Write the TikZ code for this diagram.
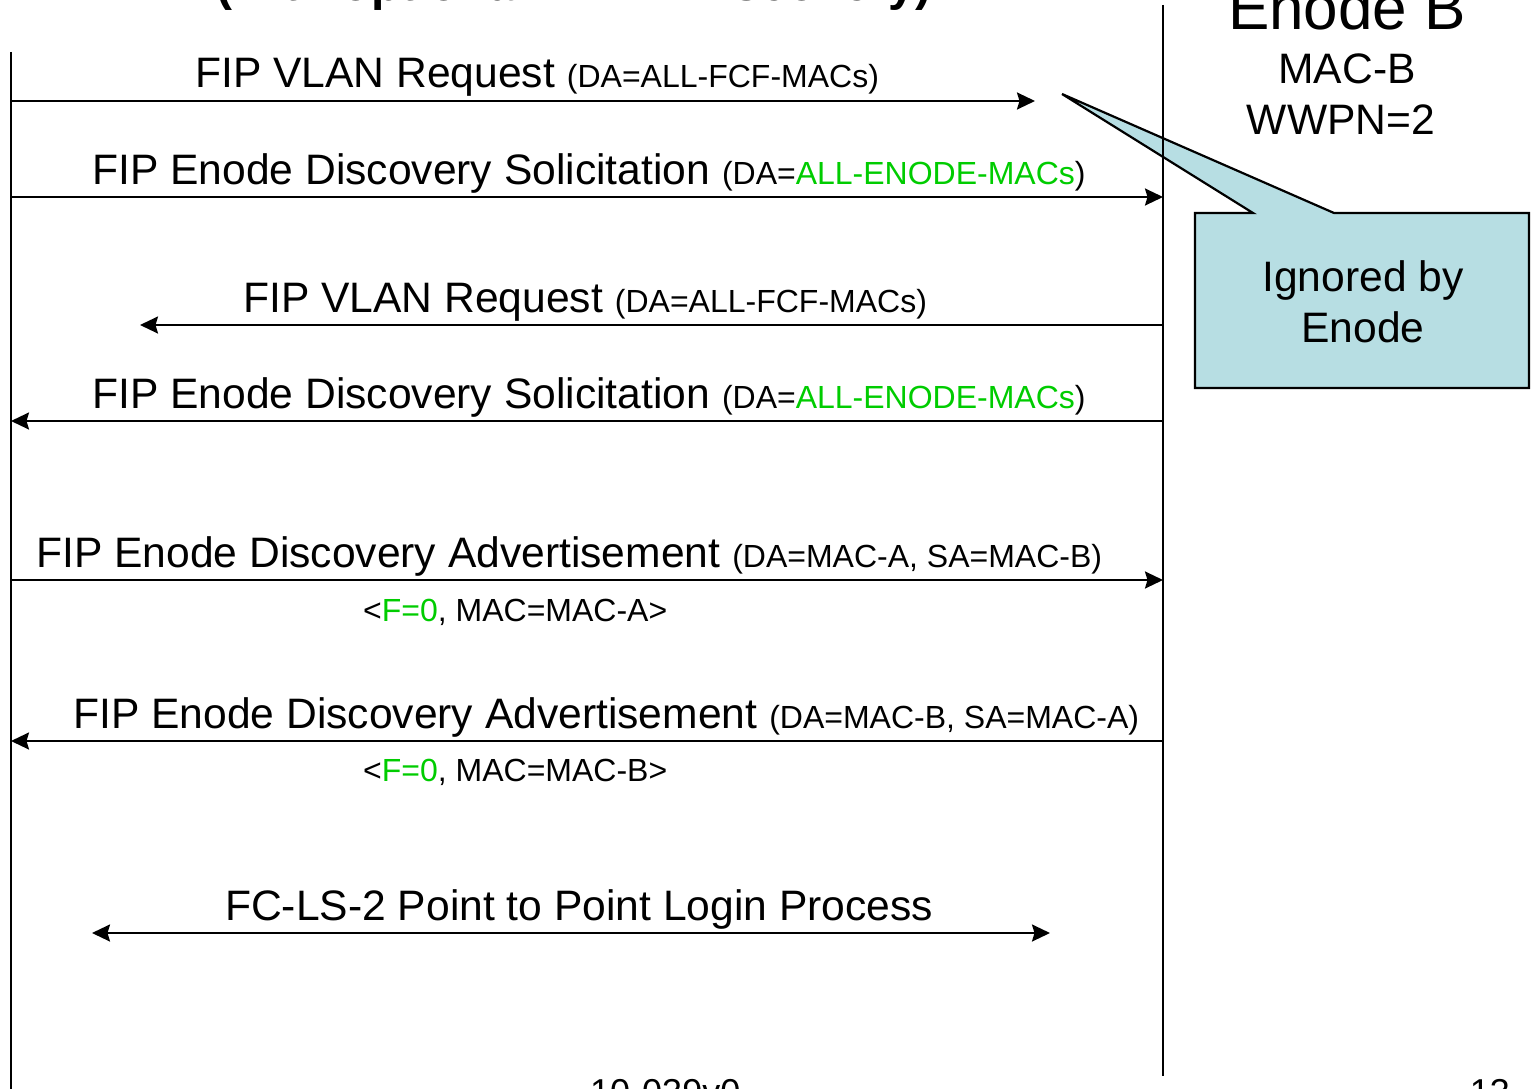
\documentclass[tikz,border=0pt]{standalone}
\usepackage{fontspec}
\setmainfont{Liberation Sans}
\usetikzlibrary{arrows.meta}
\definecolor{fipgreen}{RGB}{0,204,0}
\definecolor{callfill}{RGB}{183,222,227}
\newcommand{\smtxt}{\fontsize{32}{38}\selectfont}
\newcommand{\bgtxt}{\fontsize{42.6}{51}\selectfont}
\newcommand{\grn}[1]{\textcolor{fipgreen}{#1}}
\begin{document}
\begin{tikzpicture}[x=1pt,y=-1pt,
  lifeline/.style={line width=2.2pt},
  msg/.style={line width=2.2pt,-{Stealth[length=18pt,width=17pt,inset=2.5pt]}},
  msgboth/.style={line width=2.2pt,{Stealth[length=18pt,width=17pt,inset=2.5pt]}-{Stealth[length=18pt,width=17pt,inset=2.5pt]}},
  lbl/.style={anchor=base west,inner sep=0pt,font=\bgtxt},
  sublbl/.style={anchor=base west,inner sep=0pt,font=\smtxt},
  ctr/.style={anchor=base,inner sep=0pt,font=\bgtxt},
  callout/.style={draw=black,line width=2.2pt,fill=callfill,line join=miter}
]
\useasboundingbox (0,0) rectangle (1531,1089);
\clip (0,0) rectangle (1531,1089);

% title and footer
\node[anchor=base,inner sep=0pt,font=\fontsize{48}{58}\selectfont\bfseries] (title) at (574,1) {(with optional VLAN Discovery)};
\node[anchor=base west,inner sep=0pt,font=\fontsize{36}{43}\selectfont] (foot) at (590,1104) {10-039v0};
\node[anchor=base east,inner sep=0pt,font=\fontsize{36}{43}\selectfont] (page) at (1510,1104) {13};

% Enode B header
\node[anchor=base,inner sep=0pt,font=\fontsize{62}{74}\selectfont] (enb) at (1347,30) {Enode B};
\node[ctr] (macb) at (1347,84) {MAC-B};
\node[ctr] (wwpn) at (1341,135) {WWPN=2};

% callout
\coordinate (ctip) at (1062,94);
\draw[callout] (1195,213) -- (1253,213) -- (ctip) -- (1334,213) -- (1529,213) -- (1529,388) -- (1195,388) -- cycle;
\node[ctr] (ign1) at (1363,291) {Ignored by};
\node[ctr] (ign2) at (1363,342) {Enode};

% lifelines
\coordinate (Atop) at (11,52);
\coordinate (Abot) at (11,1095);
\coordinate (Btop) at (1163,5);
\coordinate (Bbot) at (1163,1076);
\draw[lifeline] (Atop) -- (Abot);
\draw[lifeline] (Btop) -- (Bbot);

% message 1
\coordinate (m1s) at (11,101);
\coordinate (m1e) at (1035,101);
\draw[msg] (m1s) -- (m1e);
\node[lbl] (l1) at (195,88) {FIP VLAN Request {\smtxt(DA=ALL-FCF-MACs)}};

% message 2
\coordinate (m2s) at (11,197);
\coordinate (m2e) at (1163,197);
\draw[msg] (m2s) -- (m2e);
\node[lbl] (l2) at (92,184) {FIP Enode Discovery Solicitation {\smtxt(DA=\grn{ALL-ENODE-MACs})}};

% message 3
\coordinate (m3s) at (1163,325);
\coordinate (m3e) at (140,325);
\draw[msg] (m3s) -- (m3e);
\node[lbl] (l3) at (243,312) {FIP VLAN Request {\smtxt(DA=ALL-FCF-MACs)}};

% message 4
\coordinate (m4s) at (1163,421);
\coordinate (m4e) at (11,421);
\draw[msg] (m4s) -- (m4e);
\node[lbl] (l4) at (92,408) {FIP Enode Discovery Solicitation {\smtxt(DA=\grn{ALL-ENODE-MACs})}};

% message 5
\coordinate (m5s) at (11,580);
\coordinate (m5e) at (1163,580);
\draw[msg] (m5s) -- (m5e);
\node[lbl] (l5) at (36,567) {FIP Enode Discovery Advertisement {\smtxt(DA=MAC-A, SA=MAC-B)}};
\node[sublbl] (s5) at (363,621) {<\grn{F=0}, MAC=MAC-A>};

% message 6
\coordinate (m6s) at (1163,741);
\coordinate (m6e) at (11,741);
\draw[msg] (m6s) -- (m6e);
\node[lbl] (l6) at (73,728) {FIP Enode Discovery Advertisement {\smtxt(DA=MAC-B, SA=MAC-A)}};
\node[sublbl] (s6) at (363,781) {<\grn{F=0}, MAC=MAC-B>};

% message 7
\coordinate (m7s) at (92,933);
\coordinate (m7e) at (1050,933);
\draw[msgboth] (m7s) -- (m7e);
\node[lbl] (l7) at (225,920) {FC-LS-2 Point to Point Login Process};
\end{tikzpicture}
\end{document}
